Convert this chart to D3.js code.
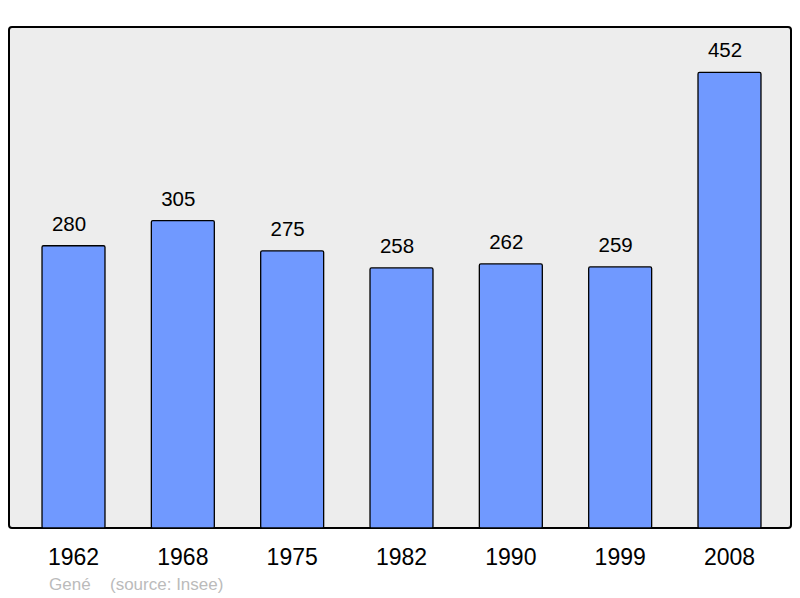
<!DOCTYPE html>
<html>
<head>
<meta charset="utf-8">
<script src="https://cdn.jsdelivr.net/npm/d3@7"></script>
<style>
  html, body { margin: 0; padding: 0; background: #fff; }
  svg { display: block; font-family: "Liberation Sans", Arial, sans-serif; }
</style>
</head>
<body>
<div id="chart"></div>
<script>
// Population par recensement
const years = ['1962', '1968', '1975', '1982', '1990', '1999', '2008'];
const population = [280, 305, 275, 258, 262, 259, 452];

const width = 800;
const height = 598;

// cadre du graphique
const frame = { left: 9, top: 27, right: 791, bottom: 528 };

const svg = d3.select('#chart')
  .append('svg')
  .attr('width', width)
  .attr('height', height);

svg.append('rect')
  .attr('x', frame.left)
  .attr('y', frame.top)
  .attr('width', frame.right - frame.left)
  .attr('height', frame.bottom - frame.top)
  .attr('rx', 3)
  .attr('fill', '#ededed')
  .attr('stroke', '#000')
  .attr('stroke-width', 2);

const x = d3.scaleBand()
  .domain(years)
  .range([9, 794])
  .paddingInner(0.424)
  .paddingOuter(0.302);

const y = d3.scaleLinear()
  .domain([0, 500])
  .range([frame.bottom, 24]);

const data = years.map((year, i) => ({ year, value: population[i] }));

// barres
svg.selectAll('.bar')
  .data(data)
  .enter()
  .append('rect')
  .attr('class', 'bar')
  .attr('x', d => x(d.year))
  .attr('y', d => y(d.value))
  .attr('width', x.bandwidth())
  .attr('height', d => y(0) - y(d.value))
  .attr('rx', 1.5)
  .attr('fill', '#7099ff')
  .attr('stroke', '#000')
  .attr('stroke-width', 1.3);

// valeurs au-dessus des barres (légèrement décalées à gauche)
svg.selectAll('.value')
  .data(data)
  .enter()
  .append('text')
  .attr('class', 'value')
  .attr('x', d => x(d.year) + x.bandwidth() / 2 - 4.5)
  .attr('y', d => y(d.value) - 15)
  .attr('text-anchor', 'middle')
  .attr('font-size', '20.5px')
  .attr('fill', '#000')
  .text(d => d.value);

// années
const xAxis = d3.axisBottom(x).tickSize(0).tickPadding(0);
const axisG = svg.append('g')
  .attr('transform', `translate(0,${frame.bottom})`)
  .call(xAxis);
axisG.select('.domain').remove();
axisG.selectAll('text')
  .attr('dy', null)
  .attr('y', 37)
  .attr('font-size', '23px')
  .attr('font-family', '"Liberation Sans", Arial, sans-serif')
  .attr('fill', '#000');

// source
svg.append('text')
  .attr('x', 49)
  .attr('y', 590)
  .attr('font-size', '17px')
  .attr('fill', '#bbbbbb')
  .text('Gené');

svg.append('text')
  .attr('x', 110)
  .attr('y', 590)
  .attr('font-size', '17px')
  .attr('fill', '#bbbbbb')
  .text('(source: Insee)');
</script>
</body>
</html>
